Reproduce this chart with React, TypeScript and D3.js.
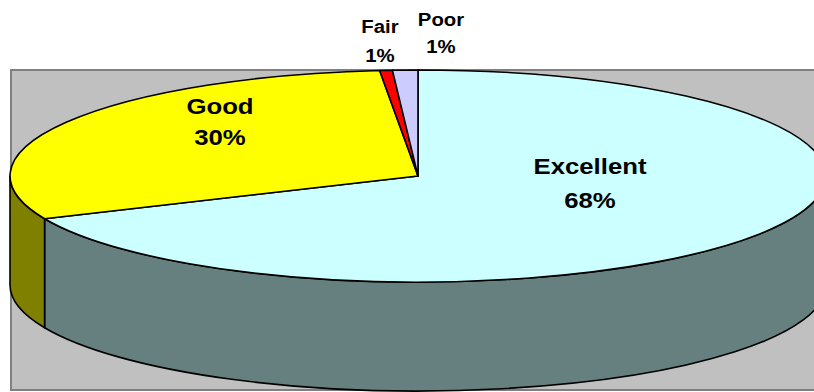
import React from "react";
import * as d3 from "d3";

const categories = ["Excellent", "Good", "Fair", "Poor"];
const values = [68.4, 30.1, 0.5, 1.0];
const topColors = ["#CCFFFF", "#FFFF00", "#FF0000", "#CCCCFF"];
const sideColors = ["#668080", "#808000", "#800000", "#666680"];

// layout
const W = 814;
const H = 392;
const cx = 418;
const cy = 176;
const rx = 408;
const ry = 106;
const depth = 109;
const labelLayout = [
  { x: 590, y1: 174, y2: 208, size: 23 },
  { x: 220, y1: 114, y2: 145, size: 23 },
  { x: 380, y1: 33, y2: 62, size: 18 },
  { x: 441, y1: 26, y2: 53, size: 18 },
];

const pt = (t: number, dy = 0): [number, number] => [cx + rx * Math.cos(t), cy + dy + ry * Math.sin(t)];

export default function App() {
  const pie = d3.pie<number>().sort(null).value((d) => d);
  const arcs = pie(values);
  const total = d3.sum(values);
  const slices = arcs.map((a, i) => {
    const s = a.startAngle - Math.PI / 2;
    const e = a.endAngle - Math.PI / 2;
    const [x0, y0] = pt(s);
    const [x1, y1] = pt(e);
    const large = e - s > Math.PI ? 1 : 0;
    const top = `M${cx},${cy}L${x0},${y0}A${rx},${ry} 0 ${large} 1 ${x1},${y1}Z`;
    let side: string | null = null;
    const ss = Math.max(s, 0);
    const ee = Math.min(e, Math.PI);
    if (ee > ss) {
      const [a0, b0] = pt(ss);
      const [a1, b1] = pt(ee);
      const [c1, d1] = pt(ee, depth);
      const [c0, d0] = pt(ss, depth);
      side = `M${a0},${b0}A${rx},${ry} 0 0 1 ${a1},${b1}L${c1},${d1}A${rx},${ry} 0 0 0 ${c0},${d0}Z`;
    }
    return { i, top, side, pct: Math.round((values[i] / total) * 100) };
  });

  const font = "'Liberation Sans', Arial, Helvetica, sans-serif";

  return (
    <div style={{ position: "fixed", left: 0, top: 0 }}>
      <svg width={W} height={H} style={{ display: "block", background: "#fff" }}>
        <rect x={11} y={70} width={830} height={320} fill="#C0C0C0" stroke="#808080" strokeWidth={2} />
        {slices.map((s) =>
          s.side ? (
            <path key={"s" + s.i} d={s.side} fill={sideColors[s.i]} stroke="#000" strokeWidth={1.6} strokeLinejoin="round" />
          ) : null
        )}
        {slices.map((s) => (
          <path key={"t" + s.i} d={s.top} fill={topColors[s.i]} stroke="#000" strokeWidth={1.6} strokeLinejoin="round" />
        ))}
        {slices.map((s) => {
          const L = labelLayout[s.i];
          const sc = s.i < 2 ? 1.12 : 1.13;
          return (
            <g key={"l" + s.i} fontFamily={font} fontWeight="bold" fontSize={L.size} textAnchor="middle" fill="#000">
              <text transform={`translate(${L.x},${L.y1}) scale(${sc},1)`}>{categories[s.i]}</text>
              <text transform={`translate(${L.x},${L.y2}) scale(${sc},1)`}>{s.pct + "%"}</text>
            </g>
          );
        })}
      </svg>
    </div>
  );
}
